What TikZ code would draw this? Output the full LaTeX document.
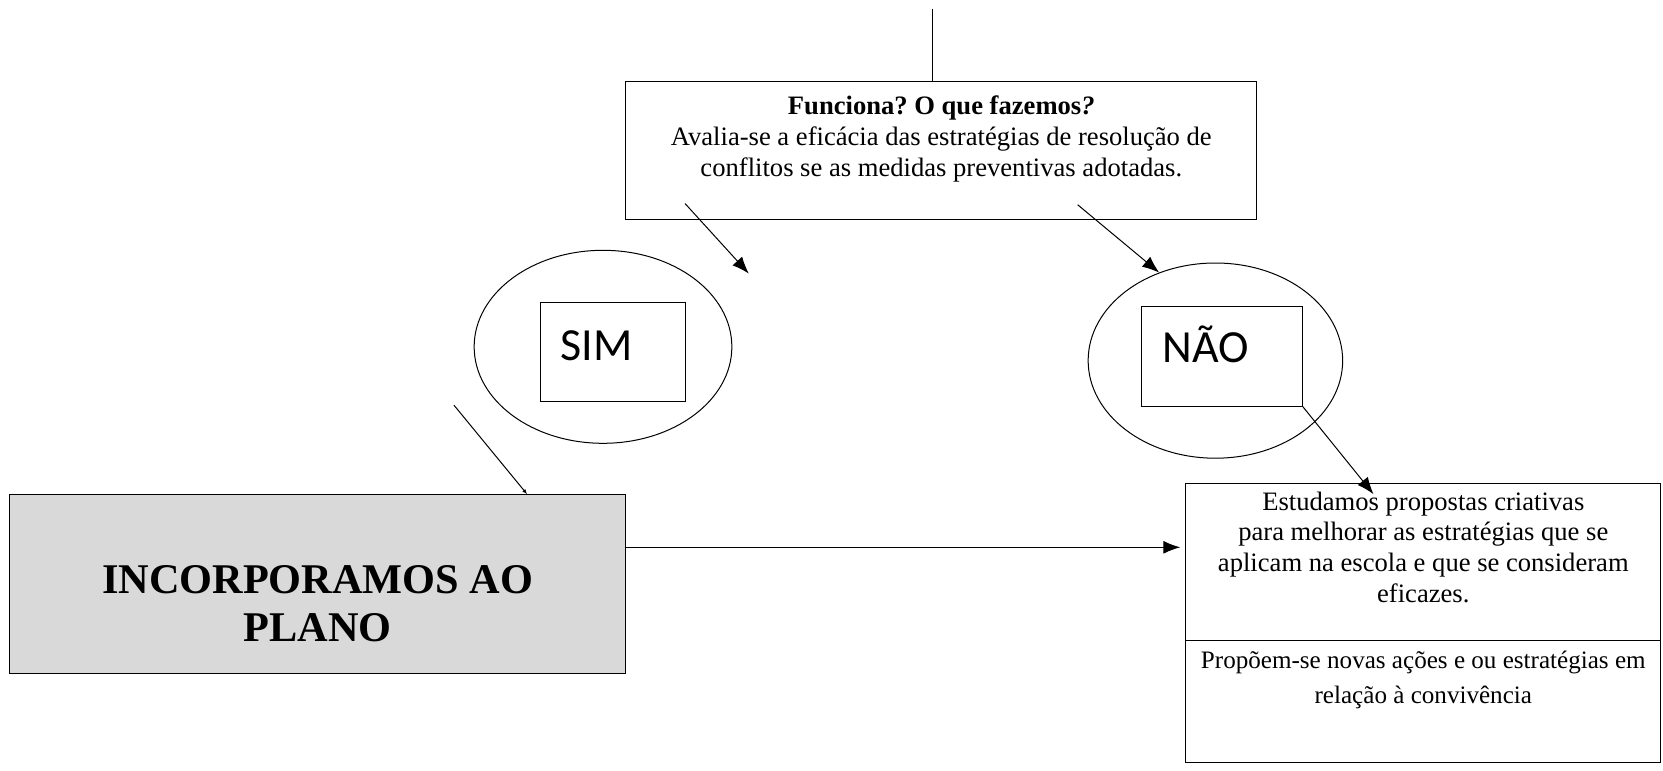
\documentclass[tikz,border=0pt]{standalone}
\usepackage{fontspec}
\setmainfont{Liberation Serif}
\newfontfamily\calib{Carlito}
\usetikzlibrary{arrows.meta,shapes.geometric}
\frenchspacing
\begin{document}
\begin{tikzpicture}[x=1pt,y=-1pt,line width=1pt,
  box/.style={draw,rectangle,inner sep=0pt},
  ell/.style={draw,ellipse,inner sep=0pt},
  txt/.style={align=center,inner sep=0pt,font=\fontsize{26.6}{30.8}\selectfont},
  yn/.style={anchor=base west,inner sep=0pt,font=\calib\fontsize{46}{50}\selectfont},
  arr/.style={-{Latex[length=17pt,width=13pt]}}]
\useasboundingbox (0,0) rectangle (1663,771);
% top box
\node[box,minimum width=631pt,minimum height=137.9pt] (top) at (941.3,150.6) {};
\node[txt] (toptxt) at (941.3,138.9) {\textbf{Funciona? O que fazemos\textit{?}}\\Avalia-se a eficácia das estratégias de resolução de\\conflitos se as medidas preventivas adotadas.};
\coordinate (tl) at (932.3,8.5);
\draw (tl) -- (top.north -| tl);
% SIM
\node[ell,minimum width=257.7pt,minimum height=193pt] (simE) at (603,346.8) {};
\node[box,minimum width=144.2pt,minimum height=99.7pt] (simB) at (613,352.1) {};
\node[yn] (simT) at (560,360.6) {SIM};
% NAO
\node[ell,minimum width=254.5pt,minimum height=195.2pt] (naoE) at (1215.4,360.6) {};
\node[box,minimum width=161.2pt,minimum height=99.7pt] (naoB) at (1221.8,356.4) {};
\node[yn] (naoT) at (1162.4,362.7) {NÃO};
% gray box
\node[box,fill=gray!30,minimum width=616.3pt,minimum height=179.3pt] (gray) at (317.7,583.9) {};
\node[align=center,inner sep=0pt,font=\bfseries\fontsize{42.3}{47.7}\selectfont] (grayT) at (317.7,603.5) {INCORPORAMOS AO\\PLANO};
% right box
\node[box,minimum width=475.1pt,minimum height=157pt] (rbU) at (1423.3,562.1) {};
\node[box,minimum width=475.1pt,minimum height=122pt] (rbL) at (1423.3,701.6) {};
\node[txt] (rbUT) at (1423.3,547.3) {Estudamos propostas criativas\\para melhorar as estratégias que se\\aplicam na escola e que se consideram\\eficazes.};
\node[txt,font=\fontsize{25.1}{35}\selectfont] (rbLT) at (1423.3,680.4) {Propõem-se novas ações e ou estratégias em\\relação à convivência};
% arrows
\coordinate (a1s) at (685.1,203.6);
\coordinate (a1e) at (748.8,273.6);
\draw[arr] (a1s) -- (a1e);
\coordinate (a2s) at (1077.6,204.7);
\coordinate (a2e) at (1159.2,272.6);
\draw[arr] (a2s) -- (a2e);
\coordinate (a3e) at (1373.5,494.2);
\draw[arr] (naoB.south east) -- (a3e);
\coordinate (g1) at (625.8,547.3);
\draw[arr,shorten >=5pt] (g1) -- (rbU.west |- g1);
\coordinate (ls) at (453.9,405.1);
\coordinate (le) at (527.1,494.2);
\draw[-{Latex[length=5pt,width=4pt]}] (ls) -- (le);
\end{tikzpicture}
\end{document}
